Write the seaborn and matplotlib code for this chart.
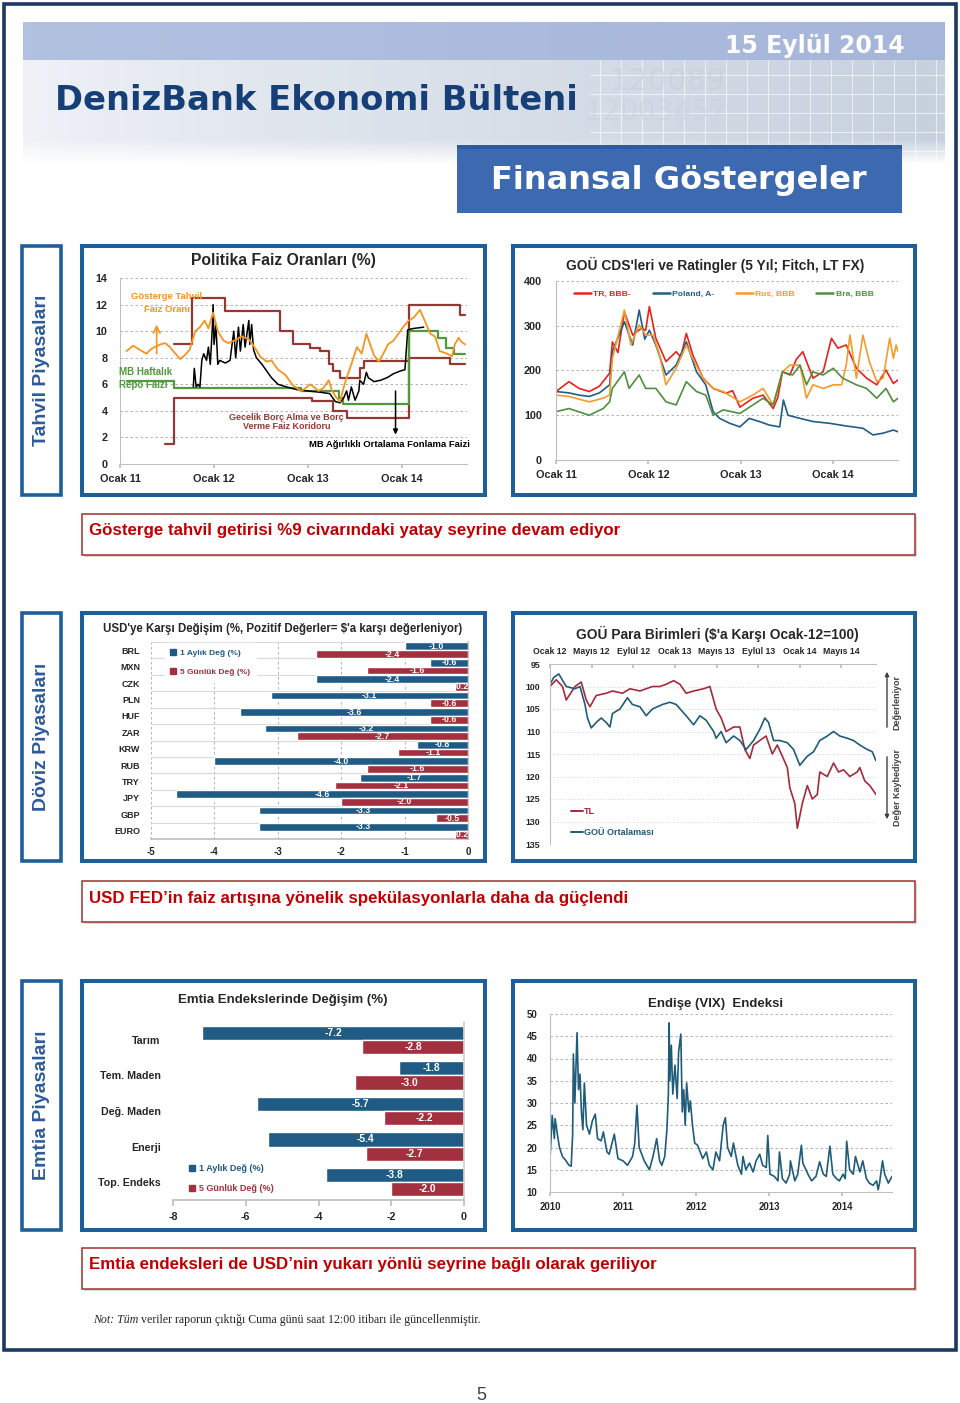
import numpy as np
import pandas as pd
import matplotlib
matplotlib.use("Agg")
import matplotlib.pyplot as plt
from matplotlib.patches import Rectangle, Patch
from matplotlib.lines import Line2D
import seaborn as sns

# ---------------- Veriler ----------------
# Politika Faiz Oranları (%) - zaman: ondalık yıl
gosterge_t = [2011.07, 2011.14, 2011.21, 2011.28, 2011.34, 2011.43, 2011.48, 2011.53, 2011.59, 2011.64,
              2011.69, 2011.74, 2011.80, 2011.85, 2011.90, 2011.94, 2011.99,
              2012.04, 2012.10, 2012.15, 2012.22, 2012.29, 2012.37, 2012.42, 2012.49, 2012.56, 2012.61,
              2012.68, 2012.76, 2012.83, 2012.88, 2012.93, 2012.99,
              2013.02, 2013.06, 2013.11, 2013.16, 2013.22, 2013.25, 2013.30, 2013.34, 2013.38, 2013.41,
              2013.46, 2013.52, 2013.57, 2013.62, 2013.66, 2013.70, 2013.75, 2013.80, 2013.85, 2013.91, 2013.96,
              2014.01, 2014.07, 2014.12, 2014.19, 2014.24, 2014.30, 2014.35, 2014.40, 2014.48, 2014.53,
              2014.56, 2014.60, 2014.63, 2014.67]
gosterge = [8.5, 8.9, 8.6, 8.3, 8.7, 9.0, 9.1, 8.8, 8.3, 7.9,
            8.2, 8.6, 10.0, 10.3, 10.8, 10.2, 11.4,
            10.0, 9.3, 9.1, 9.3, 9.6, 9.4, 8.9, 8.1, 7.7, 7.8, 7.1, 6.7, 6.0, 5.7, 5.5, 5.8,
            6.0, 5.8, 5.5, 5.7, 6.3, 5.6, 5.0, 4.7, 5.8, 6.5, 7.5, 8.8, 8.3, 9.8, 9.0, 8.2, 7.7, 8.3, 9.0, 9.3, 9.8,
            10.3, 10.8, 11.0, 11.6, 10.8, 9.8, 9.6, 8.5, 8.3, 8.1, 9.0, 9.5, 9.2, 9.0]
fonlama_t = [2011.78, 2011.79, 2011.81, 2011.83, 2011.85, 2011.87, 2011.89, 2011.92, 2011.94, 2011.96,
             2011.98, 2011.99, 2012.00, 2012.02, 2012.04, 2012.06, 2012.12, 2012.17, 2012.21, 2012.23,
             2012.26, 2012.28, 2012.31, 2012.33, 2012.37, 2012.38, 2012.40, 2012.42, 2012.45, 2012.51,
             2012.56, 2012.61, 2012.68, 2012.77, 2012.88, 2012.99, 2013.13, 2013.23, 2013.29, 2013.34,
             2013.38, 2013.41, 2013.43, 2013.46, 2013.50, 2013.54, 2013.55, 2013.59, 2013.62, 2013.64,
             2013.70, 2013.77, 2013.84, 2013.91, 2013.98, 2014.03, 2014.06, 2014.12, 2014.23]
fonlama = [5.8, 7.2, 5.8, 6.0, 5.8, 7.8, 8.3, 7.8, 8.8, 7.5,
           10.0, 12.0, 9.0, 10.5, 7.5, 7.8, 7.6, 7.8, 10.0, 8.0,
           10.3, 8.5, 10.5, 8.8, 10.8, 9.0, 10.5, 8.6, 8.0, 7.5,
           7.0, 6.5, 6.0, 5.8, 5.6, 5.5, 5.4, 5.3, 4.7, 4.6,
           5.0, 5.5, 4.8, 5.8, 4.8, 5.5, 6.3, 6.0, 6.9, 6.5,
           6.2, 6.3, 6.5, 6.8, 7.0, 7.1, 10.1, 10.2, 10.3]
repo_t = [2011.07, 2011.57, 2012.93, 2013.33, 2013.37, 2014.07, 2014.38, 2014.47, 2014.55, 2014.67]
repo = [6.25, 5.75, 5.5, 5.0, 4.5, 10.0, 9.5, 8.75, 8.25, 8.25]
koridor_ust_t = [2011.57, 2011.77, 2012.12, 2012.70, 2012.84, 2013.02, 2013.13, 2013.22, 2013.27,
                 2013.34, 2013.55, 2013.60, 2014.07, 2014.62, 2014.67]
koridor_ust = [9.0, 12.5, 11.5, 10.0, 9.0, 8.75, 8.5, 7.5, 7.0, 6.5, 7.25, 7.75, 12.0, 11.25, 11.25]
koridor_alt_t = [2011.48, 2011.57, 2013.04, 2013.27, 2013.41, 2014.07, 2014.51, 2014.67]
koridor_alt = [1.5, 5.0, 4.75, 4.0, 3.5, 8.0, 7.5, 7.5]
ocak_etiket_11 = ['Ocak 11', 'Ocak 12', 'Ocak 13', 'Ocak 14']

# GOÜ CDS'leri (baz puan)
cds_tr_t = [2011.00, 2011.14, 2011.25, 2011.36, 2011.47, 2011.58, 2011.61, 2011.67, 2011.74, 2011.83,
            2011.92, 2011.97, 2012.01, 2012.08, 2012.19, 2012.30, 2012.35, 2012.41, 2012.48, 2012.59,
            2012.70, 2012.84, 2012.91, 2012.99, 2013.13, 2013.24, 2013.35, 2013.40, 2013.45, 2013.53,
            2013.60, 2013.67, 2013.78, 2013.89, 2013.98, 2014.05, 2014.14, 2014.25, 2014.36, 2014.47,
            2014.57, 2014.65, 2014.70]
cds_tr = [153, 175, 160, 153, 165, 194, 264, 240, 331, 279,
          294, 290, 343, 272, 220, 242, 230, 283, 235, 183,
          160, 149, 155, 118, 138, 145, 115, 140, 197, 190,
          225, 242, 183, 197, 272, 250, 257, 205, 183, 168,
          201, 171, 179]
cds_pl_t = [2011.00, 2011.14, 2011.25, 2011.36, 2011.47, 2011.58, 2011.61, 2011.74, 2011.83, 2011.90,
            2011.96, 2012.01, 2012.08, 2012.19, 2012.30, 2012.41, 2012.52, 2012.62, 2012.70, 2012.77,
            2012.88, 2012.99, 2013.09, 2013.20, 2013.31, 2013.42, 2013.46, 2013.51, 2013.64, 2013.78,
            2013.96, 2014.14, 2014.32, 2014.43, 2014.54, 2014.65, 2014.70]
cds_pl = [153, 150, 145, 142, 150, 168, 242, 309, 257, 335,
          270, 290, 257, 190, 212, 264, 197, 168, 108, 93,
          82, 74, 93, 86, 78, 74, 134, 100, 93, 86,
          82, 76, 71, 56, 60, 67, 63]
cds_ru_t = [2011.00, 2011.14, 2011.36, 2011.51, 2011.58, 2011.61, 2011.74, 2011.81, 2011.90, 2011.97,
            2012.05, 2012.12, 2012.19, 2012.30, 2012.41, 2012.48, 2012.59, 2012.70, 2012.81, 2012.99,
            2013.13, 2013.24, 2013.35, 2013.45, 2013.53, 2013.64, 2013.71, 2013.78, 2013.89, 2014.00,
            2014.09, 2014.14, 2014.18, 2014.25, 2014.32, 2014.39, 2014.47, 2014.54, 2014.61, 2014.65,
            2014.68, 2014.70]
cds_ru = [145, 142, 130, 138, 145, 227, 335, 257, 302, 279,
          279, 235, 168, 205, 257, 227, 183, 160, 153, 130,
          145, 160, 123, 197, 212, 212, 138, 168, 160, 168,
          168, 212, 279, 183, 279, 220, 175, 183, 272, 227,
          257, 242]
cds_br_t = [2011.00, 2011.14, 2011.36, 2011.51, 2011.58, 2011.61, 2011.74, 2011.79, 2011.90, 2011.97,
            2012.08, 2012.19, 2012.30, 2012.41, 2012.52, 2012.62, 2012.70, 2012.81, 2012.99, 2013.13,
            2013.24, 2013.35, 2013.45, 2013.56, 2013.64, 2013.71, 2013.78, 2013.89, 2014.00, 2014.10,
            2014.25, 2014.36, 2014.47, 2014.57, 2014.65, 2014.70]
cds_br = [108, 115, 100, 115, 130, 160, 197, 160, 190, 160,
          160, 130, 123, 175, 153, 145, 100, 112, 104, 123,
          138, 123, 197, 190, 212, 168, 197, 190, 205, 183,
          168, 160, 138, 160, 130, 138]
cds_seriler = ['TR, BBB-', 'Poland, A-', 'Rus, BBB', 'Bra, BBB']

# USD'ye karşı değişim (%)
paralar = ['BRL', 'MXN', 'CZK', 'PLN', 'HUF', 'ZAR', 'KRW', 'RUB', 'TRY', 'JPY', 'GBP', 'EURO']
para_1ay = [-1.0, -0.6, -2.4, -3.1, -3.6, -3.2, -0.8, -4.0, -1.7, -4.6, -3.3, -3.3]
para_5gun = [-2.4, -1.6, -0.2, -0.6, -0.6, -2.7, -1.1, -1.6, -2.1, -2.0, -0.5, -0.2]
bar_seriler = ['1 Aylık Değ (%)', '5 Günlük Değ (%)']

# GOÜ para birimleri ($'a karşı, Ocak-12=100)
tl_t = [2012.00, 2012.05, 2012.10, 2012.13, 2012.20, 2012.25, 2012.29, 2012.32, 2012.37, 2012.45,
        2012.50, 2012.58, 2012.64, 2012.72, 2012.82, 2012.88, 2012.93, 2012.99, 2013.04, 2013.09,
        2013.15, 2013.23, 2013.28, 2013.33, 2013.37, 2013.41, 2013.47, 2013.52, 2013.56, 2013.60,
        2013.63, 2013.68, 2013.73, 2013.78, 2013.82, 2013.86, 2013.90, 2013.92, 2013.96, 2013.98,
        2014.02, 2014.06, 2014.10, 2014.14, 2014.16, 2014.22, 2014.27, 2014.31, 2014.35, 2014.40,
        2014.46, 2014.48, 2014.52, 2014.56, 2014.61]
tl = [100, 98.5, 100, 103, 100, 99, 103, 104.5, 102, 101.5,
      101, 101.5, 100.5, 101, 100, 100, 99.5, 98.7, 99.5, 101.5,
      101, 100.5, 100, 105, 107, 110, 109, 109, 114, 116,
      113, 112, 111, 115, 113, 115.5, 118, 122.5, 126, 131.5,
      126, 122, 125, 124, 119, 120, 117, 119, 118.5, 120,
      119, 118, 121, 122, 124]
gou_t = [2012.00, 2012.03, 2012.07, 2012.13, 2012.20, 2012.24, 2012.28, 2012.30, 2012.33, 2012.37,
         2012.41, 2012.45, 2012.48, 2012.50, 2012.56, 2012.62, 2012.66, 2012.72, 2012.77, 2012.82,
         2012.90, 2012.96, 2013.01, 2013.09, 2013.15, 2013.20, 2013.25, 2013.31, 2013.33, 2013.37,
         2013.41, 2013.47, 2013.52, 2013.57, 2013.63, 2013.68, 2013.72, 2013.75, 2013.79, 2013.84,
         2013.90, 2013.95, 2014.00, 2014.06, 2014.11, 2014.16, 2014.22, 2014.27, 2014.32, 2014.38,
         2014.43, 2014.48, 2014.54, 2014.58, 2014.61]
gou = [99.5, 98, 97.2, 100, 100.5, 100, 104, 107, 109.2, 108,
       107, 108, 109, 106, 105, 102.5, 104, 104.5, 106.5, 105,
       104, 103.5, 104, 106.5, 108.5, 106.5, 107.5, 110, 111.5, 110,
       112.5, 111, 112, 114, 112, 109.5, 107, 108, 112, 112,
       112.5, 114, 117.5, 115.5, 114.5, 112, 111, 110, 111, 111.5,
       112, 113, 114, 114.5, 116.5]
kur_seriler = ['TL', 'GOÜ Ortalaması']
kur_etiket = ['Ocak 12', 'Mayıs 12', 'Eylül 12', 'Ocak 13', 'Mayıs 13', 'Eylül 13', 'Ocak 14', 'Mayıs 14']

# Emtia endekslerinde değişim (%)
emtialar = ['Tarım', 'Tem. Maden', 'Değ. Maden', 'Enerji', 'Top. Endeks']
emtia_1ay = [-7.2, -1.8, -5.7, -5.4, -3.8]
emtia_5gun = [-2.8, -3.0, -2.2, -2.7, -2.0]

# VIX
vix_t = [2010.00, 2010.03, 2010.06, 2010.07, 2010.11, 2010.13, 2010.17, 2010.22, 2010.26, 2010.29,
         2010.31, 2010.32, 2010.34, 2010.37, 2010.39, 2010.41, 2010.43, 2010.45, 2010.47, 2010.50,
         2010.54, 2010.58, 2010.62, 2010.65, 2010.70, 2010.73, 2010.78, 2010.81, 2010.88, 2010.93,
         2011.00, 2011.06, 2011.13, 2011.16, 2011.19, 2011.22, 2011.29, 2011.36, 2011.41, 2011.46,
         2011.50, 2011.53, 2011.57, 2011.60, 2011.62, 2011.63, 2011.64, 2011.66, 2011.68, 2011.71,
         2011.74, 2011.76, 2011.79, 2011.81, 2011.83, 2011.85, 2011.87, 2011.90, 2011.92, 2011.95,
         2011.98, 2012.02, 2012.09, 2012.14, 2012.18, 2012.23, 2012.27, 2012.32, 2012.37, 2012.40,
         2012.43, 2012.48, 2012.51, 2012.57, 2012.62, 2012.64, 2012.68, 2012.73, 2012.78, 2012.82,
         2012.87, 2012.91, 2012.96, 2012.98, 2013.01, 2013.07, 2013.12, 2013.14, 2013.18, 2013.23,
         2013.28, 2013.29, 2013.35, 2013.39, 2013.44, 2013.46, 2013.53, 2013.58, 2013.64, 2013.69,
         2013.74, 2013.78, 2013.83, 2013.87, 2013.92, 2013.96, 2014.01, 2014.04, 2014.06, 2014.10,
         2014.15, 2014.18, 2014.24, 2014.28, 2014.33, 2014.37, 2014.42, 2014.47, 2014.49, 2014.51,
         2014.55, 2014.58, 2014.63, 2014.68]
vix = [17.5, 27.2, 22.0, 26.5, 22.0, 20.0, 18.0, 17.0, 16.0, 15.8,
       23.0, 41.0, 30.0, 45.8, 33.0, 36.5, 28.0, 24.0, 34.5, 25.0,
       23.0, 26.0, 27.5, 22.0, 21.5, 23.5, 19.0, 18.5, 23.0, 17.5,
       17.0, 16.0, 18.0, 21.0, 29.5, 20.0, 17.0, 15.0, 18.0, 22.0,
       17.0, 16.0, 18.0, 24.0, 32.0, 48.0, 35.0, 43.0, 32.0, 38.5,
       31.0, 41.5, 45.5, 28.0, 33.0, 25.0, 34.5, 28.0, 30.5, 25.0,
       21.0, 20.5, 17.5, 19.0, 16.0, 15.0, 19.0, 17.0, 25.0, 26.7,
       20.0, 18.0, 21.0, 16.0, 14.0, 18.0, 15.0, 16.5, 14.5, 17.0,
       18.5, 16.0, 15.5, 22.7, 14.0, 13.5, 12.5, 19.0, 13.0, 12.0,
       14.0, 17.0, 12.5, 14.0, 20.5, 16.5, 14.0, 12.5, 13.5, 16.8,
       14.0, 13.5, 20.3, 14.0, 13.0, 12.5, 14.0, 13.0, 21.4, 15.0,
       14.0, 18.0, 14.5, 17.0, 13.0, 12.0, 11.5, 12.5, 10.5, 12.0,
       17.0, 14.0, 12.0, 13.5]
vix_yillar = ['2010', '2011', '2012', '2013', '2014']

# ---------------- Stil ----------------
sns.set_theme(style="white")
plt.rcParams['font.family'] = ['Liberation Sans', 'DejaVu Sans']
plt.rcParams['axes.unicode_minus'] = False

FRAME = '#1F5F99'
NAVY = '#1F3864'
GRID = '#A6A6A6'
AXC = '#BFBFBF'
BLUE = '#1F5B85'
RED = '#A3303E'
ORANGE = '#F7941D'
GREEN = '#4F9A3C'
DARKRED = '#953735'
TXT = '#262626'

W, H = 960, 1403
fig = plt.figure(figsize=(W / 100, H / 100), dpi=100)
fig.patch.set_facecolor('white')

bg = fig.add_axes([0, 0, 1, 1])
bg.set_zorder(-1)


def px_ax(x0, y0, x1, y1):
    return fig.add_axes([x0 / W, 1 - y1 / H, (x1 - x0) / W, (y1 - y0) / H])


def bold_ticks(ax, size=7):
    ax.tick_params(labelsize=size, labelcolor=TXT)
    for lab in ax.get_xticklabels() + ax.get_yticklabels():
        lab.set_fontweight('bold')


def line_axes(ax):
    for s in ['top', 'right']:
        ax.spines[s].set_visible(False)
    for s in ['left', 'bottom']:
        ax.spines[s].set_color(AXC)
        ax.spines[s].set_linewidth(0.8)
    ax.yaxis.grid(True, ls=(0, (3, 3)), color=GRID, lw=0.6)
    ax.tick_params(axis='x', bottom=True, length=3, color=AXC, pad=4)
    ax.tick_params(axis='y', left=False, length=0, pad=4)


# ---------------- Sayfa arka planı ----------------
# başlık bandı
bg.imshow(np.linspace(0, 1, 100).reshape(1, -1), cmap=matplotlib.colors.LinearSegmentedColormap.from_list(
    'b', ['#B3C1E1', '#A6B6DA']), extent=(23, 945, 60, 22), aspect='auto')
grad = np.linspace(0, 1, 200)
fade = np.clip((165 - np.linspace(60, 165, 60)) / 25, 0, 1)
c0 = np.array([0.94, 0.95, 0.97])
c1 = np.array([0.78, 0.82, 0.87])
img = c0[None, None, :] + (c1 - c0)[None, None, :] * grad[None, :, None] ** 0.8
img = 1 - (1 - img) * fade[:, None, None]
bg.imshow(img, extent=(23, 945, 165, 60), aspect='auto')
for gx in range(600, 946, 21):
    bg.plot([gx, gx], [60, 160], color='white', lw=0.8, alpha=0.6)
for gy in range(75, 160, 19):
    bg.plot([590, 945], [gy, gy], color='white', lw=0.8, alpha=0.6)
bg.text(610, 82, '120089', fontsize=22, color='#C4CEDA', family='DejaVu Sans', va='center', alpha=0.45)
bg.text(585, 112, '12003457', fontsize=20, color='#C8D1DC', family='DejaVu Sans', va='center', alpha=0.45)

bg.text(55, 101, 'DenizBank Ekonomi Bülteni', fontsize=24.3, fontweight='bold', color='#163F78',
        family='DejaVu Sans', va='center')
bg.text(905, 46, '15 Eylül 2014', fontsize=17, fontweight='bold', color='white',
        family='DejaVu Sans', va='center', ha='right')
bg.add_patch(Rectangle((457, 145), 445, 68, fc='#3C69B0', ec='none', zorder=5))
bg.add_patch(Rectangle((457, 145), 445, 4, fc='#2F5A9E', ec='none', zorder=5))
bg.text(679, 180, 'Finansal Göstergeler', fontsize=23, fontweight='bold', color='white',
        family='DejaVu Sans', va='center', ha='center', zorder=6)

# dış çerçeve
bg.add_patch(Rectangle((4, 4), 952, 1346, fill=False, ec=NAVY, lw=2.6))

satirlar = [(246, 495, 'Tahvil Piyasaları'), (613, 861, 'Döviz Piyasaları'), (981, 1230, 'Emtia Piyasaları')]
for y0, y1, etiket in satirlar:
    bg.add_patch(Rectangle((22, y0), 39, y1 - y0, fill=False, ec=FRAME, lw=2.6))
    bg.text(41.5, (y0 + y1) / 2, etiket, rotation=90, ha='center', va='center', fontsize=14,
            fontweight='bold', color='#2E5A9C')
    bg.add_patch(Rectangle((82, y0), 403, y1 - y0, fill=False, ec=FRAME, lw=2.9))
    bg.add_patch(Rectangle((513, y0), 402, y1 - y0, fill=False, ec=FRAME, lw=2.9))

basliklar = [(514, 'Gösterge tahvil getirisi %9 civarındaki yatay seyrine devam ediyor'),
             (881, 'USD FED’in faiz artışına yönelik spekülasyonlarla daha da güçlendi'),
             (1248, 'Emtia endeksleri de USD’nin yukarı yönlü seyrine bağlı olarak geriliyor')]
for y0, metin in basliklar:
    bg.add_patch(Rectangle((84, y0 + 2), 833, 41, fc='#D9D9D9', ec='none'))
    bg.add_patch(Rectangle((82, y0), 833, 41, fc='white', ec='#A0302E', lw=1.1))
    bg.text(89, y0 + 17, metin, fontsize=12.2, fontweight='bold', color='#C00000', va='center')

not1 = bg.text(93, 1320, 'Not: Tüm', fontsize=8.6, style='italic', family='Liberation Serif',
               va='center', color=TXT)
bg.annotate(' veriler raporun çıktığı Cuma günü saat 12:00 itibarı ile güncellenmiştir.',
            xy=(1, 0.5), xycoords=not1, va='center', fontsize=8.6, family='Liberation Serif', color=TXT)
bg.text(481, 1395, '5', fontsize=13, ha='center', va='center', color='#404040')

# GOÜ para birimleri sağ ok notları
bg.annotate('', xy=(887, 669), xytext=(887, 730),
            arrowprops=dict(arrowstyle='-|>', color='#404040', lw=1, mutation_scale=6))
bg.text(897, 702, 'Değerleniyor', rotation=90, ha='center', va='center', fontsize=6.5,
        fontweight='bold', color='#404040')
bg.annotate('', xy=(887, 822), xytext=(887, 754),
            arrowprops=dict(arrowstyle='-|>', color='#404040', lw=1, mutation_scale=6))
bg.text(897, 787, 'Değer Kaybediyor', rotation=90, ha='center', va='center', fontsize=6.5,
        fontweight='bold', color='#404040')

# grafik başlıkları
bg.text(283, 260, 'Politika Faiz Oranları (%)', ha='center', va='center', fontsize=11.3, fontweight='bold', color=TXT)
bg.text(715, 265, "GOÜ CDS'leri ve Ratingler (5 Yıl; Fitch, LT FX)", ha='center', va='center',
        fontsize=9.9, fontweight='bold', color=TXT)
bg.text(283, 629, "USD'ye Karşı Değişim (%, Pozitif Değerler= \\$'a karşı değerleniyor)", ha='center',
        va='center', fontsize=8.3, fontweight='bold', color=TXT)
bg.text(717, 634, "GOÜ Para Birimleri (\\$'a Karşı Ocak-12=100)", ha='center', va='center',
        fontsize=9.9, fontweight='bold', color=TXT)
bg.text(283, 1000, 'Emtia Endekslerinde Değişim (%)', ha='center', va='center', fontsize=9.5,
        fontweight='bold', color=TXT)
bg.text(716, 1004, 'Endişe (VIX)  Endeksi', ha='center', va='center', fontsize=9.5,
        fontweight='bold', color=TXT)

bg.set_xlim(0, W)
bg.set_ylim(H, 0)
bg.axis('off')

# ---------------- 1) Politika faiz oranları ----------------
ax = px_ax(120, 278, 467, 464)
sns.lineplot(x=koridor_alt_t, y=koridor_alt, ax=ax, color=DARKRED, lw=1.6, drawstyle='steps-post', estimator=None)
sns.lineplot(x=koridor_ust_t, y=koridor_ust, ax=ax, color=DARKRED, lw=1.6, drawstyle='steps-post', estimator=None)
sns.lineplot(x=repo_t, y=repo, ax=ax, color=GREEN, lw=1.6, drawstyle='steps-post', estimator=None)
sns.lineplot(x=fonlama_t, y=fonlama, ax=ax, color='black', lw=1.1, estimator=None)
sns.lineplot(x=gosterge_t, y=gosterge, ax=ax, color=ORANGE, lw=1.3, estimator=None)
ax.set_xlim(2011.0, 2014.69)
ax.set_ylim(0, 14)
ax.set_yticks(range(0, 15, 2))
ax.set_xticks([2011, 2012, 2013, 2014])
ax.set_xticklabels(ocak_etiket_11)
line_axes(ax)
ax.tick_params(axis='y', pad=9)
bold_ticks(ax, 7.8)
ax.text(2011.50, 12.6, 'Gösterge Tahvil', color=ORANGE, fontsize=6.8, fontweight='bold', ha='center', va='center')
ax.text(2011.50, 11.6, 'Faiz Oranı', color=ORANGE, fontsize=6.8, fontweight='bold', ha='center', va='center')
ax.annotate('', xy=(2011.39, 10.7), xytext=(2011.39, 8.1),
            arrowprops=dict(arrowstyle='->', color=ORANGE, lw=1.2))
ax.text(2010.99, 6.95, 'MB Haftalık', color=GREEN, fontsize=7, fontweight='bold', va='center')
ax.text(2010.99, 5.95, 'Repo Faizi', color=GREEN, fontsize=7, fontweight='bold', va='center')
ax.text(2012.77, 3.5, 'Gecelik Borç Alma ve Borç', color=DARKRED, fontsize=6.5, fontweight='bold',
        ha='center', va='center')
ax.text(2012.77, 2.8, 'Verme Faiz Koridoru', color=DARKRED, fontsize=6.5, fontweight='bold',
        ha='center', va='center')
ax.annotate('', xy=(2013.93, 2.0), xytext=(2013.93, 5.7),
            arrowprops=dict(arrowstyle='-|>', color='black', lw=1.1, mutation_scale=7))
ax.text(2014.72, 1.5, 'MB Ağırlıklı Ortalama Fonlama Faizi', color='black', fontsize=6.8,
        fontweight='bold', ha='right', va='center')

# ---------------- 2) CDS ----------------
ax = px_ax(556, 281, 898, 460)
cds_renk = ['#E8221B', '#215E87', '#F59B2B', '#4F8F3E']
for t, v, r in zip([cds_tr_t, cds_pl_t, cds_ru_t, cds_br_t], [cds_tr, cds_pl, cds_ru, cds_br], cds_renk):
    sns.lineplot(x=t, y=v, ax=ax, color=r, lw=1.2, estimator=None)
ax.set_xlim(2011.0, 2014.70)
ax.set_ylim(0, 400)
ax.set_yticks(range(0, 401, 100))
ax.set_xticks([2011, 2012, 2013, 2014])
ax.set_xticklabels(ocak_etiket_11)
line_axes(ax)
ax.tick_params(axis='y', pad=10)
bold_ticks(ax, 7.8)
leg = ax.legend(handles=[Line2D([], [], color=r, lw=1.8) for r in cds_renk], labels=cds_seriler, ncol=4,
                loc='upper center', bbox_to_anchor=(0.49, 0.975), frameon=False, fontsize=6.1,
                handlelength=2.0, handletextpad=0.25, columnspacing=2.6, borderpad=0)
for txt, r in zip(leg.get_texts(), cds_renk):
    txt.set_color(r)
    txt.set_fontweight('bold')

# ---------------- 3) USD'ye karşı değişim ----------------
ax = px_ax(151, 642, 468, 839)
df_para = pd.DataFrame({'para': paralar * 2,
                        'seri': [bar_seriler[0]] * len(paralar) + [bar_seriler[1]] * len(paralar),
                        'deger': para_1ay + para_5gun})
sns.barplot(data=df_para, x='deger', y='para', hue='seri', orient='h', palette=[BLUE, RED],
            width=0.94, saturation=1, legend=False, ax=ax, zorder=3)
for cont in ax.containers:
    ax.bar_label(cont, fmt='%.1f', label_type='center', color='white', fontsize=6.3, fontweight='bold')
ax.set_xlim(-5, 0)
ax.set_ylim(len(paralar) - 0.5, -0.5)
ax.set_xticks(range(-5, 1))
ax.xaxis.grid(True, ls=(0, (3, 3)), color=GRID, lw=0.6)
ax.set_axisbelow(True)
for i in range(len(paralar) + 1):
    ax.axhline(i - 0.5, color='#D9D9D9', lw=0.8, zorder=1)
for s in ['top', 'left']:
    ax.spines[s].set_visible(False)
ax.spines['right'].set_color(AXC)
ax.spines['bottom'].set_color(AXC)
ax.set_xlabel('')
ax.set_ylabel('')
ax.tick_params(axis='y', left=False, length=0, pad=8)
ax.tick_params(axis='x', bottom=False, length=0, pad=6)
bold_ticks(ax, 6.5)
ax.tick_params(axis='x', labelsize=7)
leg = ax.legend(handles=[Patch(color=BLUE), Patch(color=RED)], labels=bar_seriler, loc='upper left',
                bbox_to_anchor=(0.043, 0.995), frameon=True, fontsize=6.0, handlelength=0.7,
                handleheight=0.7, handletextpad=0.4, labelspacing=1.35, borderpad=0.7,
                borderaxespad=0, fancybox=False)
leg.get_frame().set_facecolor('white')
leg.get_frame().set_edgecolor('white')
leg.get_frame().set_alpha(1)
leg.set_zorder(2)
for txt, r in zip(leg.get_texts(), [BLUE, RED]):
    txt.set_color(r)
    txt.set_fontweight('bold')

# ---------------- 4) GOÜ para birimleri ----------------
ax = px_ax(550, 664, 876, 844)
sns.lineplot(x=tl_t, y=tl, ax=ax, color='#A52A3C', lw=1.2, estimator=None)
sns.lineplot(x=gou_t, y=gou, ax=ax, color='#1F5C7A', lw=1.2, estimator=None)
ax.set_xlim(2012.0, 2014.61)
ax.set_ylim(135, 95)
ax.set_yticks(range(95, 136, 5))
ax.set_xticks([2012 + i / 3 for i in range(len(kur_etiket))])
ax.set_xticklabels(kur_etiket)
ax.xaxis.tick_top()
for s in ['bottom', 'right']:
    ax.spines[s].set_visible(False)
for s in ['left', 'top']:
    ax.spines[s].set_color(AXC)
    ax.spines[s].set_linewidth(0.8)
ax.yaxis.grid(True, ls=(0, (1, 2)), color='#C8C8C8', lw=0.6)
ax.tick_params(axis='x', top=True, length=3, direction='in', color=AXC, pad=6)
ax.tick_params(axis='y', left=False, length=0, pad=7)
bold_ticks(ax, 6.3)
leg = ax.legend(handles=[Line2D([], [], color='#A52A3C', lw=1.4), Line2D([], [], color='#1F5C7A', lw=1.4)],
                labels=kur_seriler, loc='lower left', bbox_to_anchor=(0.05, 0.012), frameon=False,
                fontsize=6.5, handlelength=1.3, handletextpad=0.2, labelspacing=1.35, borderpad=0)
for txt, r in zip(leg.get_texts(), ['#A52A3C', '#1F5C7A']):
    txt.set_color(r)
    txt.set_fontweight('bold')

# ---------------- 5) Emtia endeksleri ----------------
ax = px_ax(173, 1022, 464, 1200)
df_emtia = pd.DataFrame({'emtia': emtialar * 2,
                         'seri': [bar_seriler[0]] * len(emtialar) + [bar_seriler[1]] * len(emtialar),
                         'deger': emtia_1ay + emtia_5gun})
sns.barplot(data=df_emtia, x='deger', y='emtia', hue='seri', orient='h', palette=[BLUE, RED],
            width=0.8, saturation=1, legend=False, ax=ax)
for cont in ax.containers:
    ax.bar_label(cont, fmt='%.1f', label_type='center', color='white', fontsize=7.4, fontweight='bold')
ax.set_xlim(-8, 0)
ax.set_ylim(len(emtialar) - 0.5, -0.5)
ax.set_xticks(range(-8, 1, 2))
for s in ['top', 'left']:
    ax.spines[s].set_visible(False)
ax.spines['right'].set_color('#D0D0D0')
ax.spines['bottom'].set_color(AXC)
ax.set_xlabel('')
ax.set_ylabel('')
ax.tick_params(axis='y', left=False, length=0, pad=9)
ax.tick_params(axis='x', bottom=True, length=4, color=AXC, pad=5)
bold_ticks(ax, 7.7)
leg = ax.legend(handles=[Patch(color=BLUE), Patch(color=RED)], labels=bar_seriler, loc='upper left',
                bbox_to_anchor=(0.055, 0.2), frameon=False, fontsize=6.5, handlelength=0.7,
                handleheight=0.7, handletextpad=0.4, labelspacing=1.2, borderpad=0, borderaxespad=0)
for txt, r in zip(leg.get_texts(), [BLUE, RED]):
    txt.set_color(r)
    txt.set_fontweight('bold')

# ---------------- 6) VIX ----------------
ax = px_ax(550, 1014, 892, 1192)
sns.lineplot(x=vix_t, y=vix, ax=ax, color='#1F5C7A', lw=1.2, estimator=None)
ax.set_xlim(2010.0, 2014.68)
ax.set_ylim(10, 50)
ax.set_yticks(range(10, 51, 5))
ax.set_xticks([2010, 2011, 2012, 2013, 2014])
ax.set_xticklabels(vix_yillar)
line_axes(ax)
ax.tick_params(axis='y', pad=9)
bold_ticks(ax, 6.9)

fig.savefig('out.png', dpi=100)
